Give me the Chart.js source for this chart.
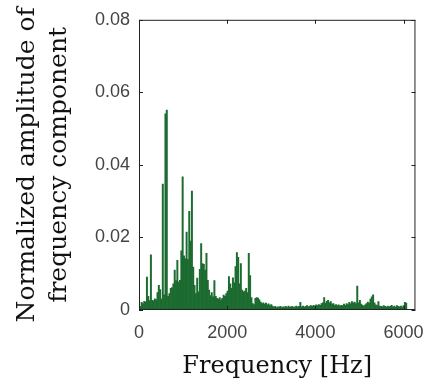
<!DOCTYPE html>
<html>
<head>
<meta charset="utf-8">
<script src="https://cdn.jsdelivr.net/npm/chart.js@4"></script>
<style>
  html, body { margin: 0; padding: 0; background: #fff; }
  #wrap { width: 436px; height: 385px; }
</style>
</head>
<body>
<div id="wrap"><canvas id="spectrumChart"></canvas></div>
<script>
// ==========================================
// data
// ==========================================

const binHz = 30;

// normalized amplitude, one value per 30 Hz bin starting at 0 Hz
const amplitudes = [
    0.0004, 0.0010, 0.0021, 0.0018, 0.0024, 0.0022, 0.0091, 0.0038, 0.0026, 0.0152,
    0.0027, 0.0025, 0.0031, 0.0029, 0.0048, 0.0068, 0.0056, 0.0030, 0.0347, 0.0042,
    0.0541, 0.0551, 0.0038, 0.0045, 0.0060, 0.0062, 0.0072, 0.0110, 0.0081, 0.0137,
    0.0077, 0.0082, 0.0163, 0.0367, 0.0149, 0.0142, 0.0215, 0.0140, 0.0272, 0.0190,
    0.0328, 0.0118, 0.0068, 0.0045, 0.0088, 0.0050, 0.0112, 0.0183, 0.0128, 0.0126,
    0.0110, 0.0156, 0.0082, 0.0055, 0.0040, 0.0048, 0.0036, 0.0081, 0.0038, 0.0032,
    0.0030, 0.0034, 0.0028, 0.0032, 0.0041, 0.0038, 0.0045, 0.0052, 0.0092, 0.0072,
    0.0060, 0.0089, 0.0075, 0.0120, 0.0158, 0.0145, 0.0072, 0.0128, 0.0055, 0.0050,
    0.0052, 0.0060, 0.0048, 0.0156, 0.0095, 0.0034, 0.0018, 0.0015, 0.0032, 0.0034,
    0.0033, 0.0028, 0.0022, 0.0018, 0.0020, 0.0016, 0.0019, 0.0014, 0.0017, 0.0012,
    0.0015, 0.0011, 0.0008, 0.0010, 0.0007, 0.0009, 0.0008, 0.0010, 0.0007, 0.0009,
    0.0008, 0.0010, 0.0007, 0.0011, 0.0008, 0.0009, 0.0010, 0.0007, 0.0009, 0.0011,
    0.0008, 0.0010, 0.0021, 0.0009, 0.0011, 0.0008, 0.0010, 0.0012, 0.0009, 0.0011,
    0.0012, 0.0010, 0.0013, 0.0011, 0.0014, 0.0012, 0.0015, 0.0013, 0.0018, 0.0020,
    0.0034, 0.0019, 0.0024, 0.0027, 0.0020, 0.0023, 0.0016, 0.0018, 0.0013, 0.0015,
    0.0012, 0.0014, 0.0011, 0.0013, 0.0012, 0.0016, 0.0013, 0.0018, 0.0015, 0.0021,
    0.0017, 0.0023, 0.0019, 0.0022, 0.0018, 0.0066, 0.0020, 0.0027, 0.0016, 0.0013,
    0.0011, 0.0014, 0.0018, 0.0022, 0.0019, 0.0030, 0.0036, 0.0042, 0.0020, 0.0014,
    0.0012, 0.0023, 0.0011, 0.0010, 0.0009, 0.0012, 0.0010, 0.0008, 0.0011, 0.0009,
    0.0010, 0.0013, 0.0009, 0.0011, 0.0008, 0.0012, 0.0010, 0.0009, 0.0011, 0.0008,
    0.0012, 0.0021, 0.0019
];

const frequencies = amplitudes.map((_, i) => i * binHz);

const xTicks = [0, 2000, 4000, 6000];
const yTicks = [0, 0.02, 0.04, 0.06, 0.08];

// ==========================================
// frame with inward ticks
// ==========================================

const framePlugin = {
    id: "frame",
    afterDraw(chart){
        const {ctx, chartArea: a, scales} = chart;
        ctx.save();
        ctx.strokeStyle = "#222";
        ctx.lineWidth = 1;
        ctx.strokeRect(a.left + 0.5, a.top + 0.5, a.right - a.left - 1, a.bottom - a.top - 1);
        ctx.beginPath();
        xTicks.forEach(v => {
            const px = Math.round(scales.x.getPixelForValue(v)) + 0.5;
            ctx.moveTo(px, a.top); ctx.lineTo(px, a.top + 4);
            ctx.moveTo(px, a.bottom); ctx.lineTo(px, a.bottom - 4);
        });
        yTicks.forEach(v => {
            const py = Math.round(scales.y.getPixelForValue(v)) + 0.5;
            ctx.moveTo(a.left, py); ctx.lineTo(a.left + 4, py);
            ctx.moveTo(a.right, py); ctx.lineTo(a.right - 4, py);
        });
        ctx.stroke();
        ctx.restore();
    }
};

// ==========================================
// chart
// ==========================================

const ctx = document.getElementById("spectrumChart").getContext("2d");

new Chart(ctx,{

    type:"bar",

    data:{
        datasets:[{
            data: frequencies.map((f, i) => ({x: f, y: amplitudes[i]})),
            backgroundColor:"#1c6b30",
            borderWidth:0,
            barPercentage:1,
            categoryPercentage:1
        }]
    },

    options:{
        responsive:true,
        maintainAspectRatio:false,
        animation:false,
        events:[],
        layout:{ padding:{ top:15, right:10, left:0, bottom:0 } },
        plugins:{
            legend:{ display:false },
            tooltip:{ enabled:false }
        },
        scales:{
            x:{
                type:"linear",
                min:0,
                max:6270,
                offset:false,
                grid:{ display:false, drawTicks:false },
                border:{ display:false },
                afterBuildTicks(s){ s.ticks = xTicks.map(v => ({value:v})); },
                afterFit(s){ s.height = 75; },
                ticks:{
                    padding:12,
                    color:"#444",
                    font:{ family:"Liberation Sans", size:18 },
                    callback:v => String(v)
                },
                title:{
                    display:true,
                    text:"Frequency [Hz]",
                    color:"#111",
                    padding:{ top:0, bottom:4 },
                    font:{ family:"DejaVu Serif", size:24, lineHeight:1.2 }
                }
            },
            y:{
                min:0,
                max:0.08,
                grid:{ display:false, drawTicks:false },
                border:{ display:false },
                afterBuildTicks(s){ s.ticks = yTicks.map(v => ({value:v})); },
                afterFit(s){ s.width = 139; },
                ticks:{
                    padding:9,
                    color:"#444",
                    font:{ family:"Liberation Sans", size:18 },
                    callback:v => v === 0 ? "0" : v.toFixed(2)
                },
                title:{
                    display:true,
                    text:["Normalized amplitude of", "frequency component"],
                    color:"#111",
                    padding:{ top:11, bottom:0 },
                    font:{ family:"DejaVu Serif", size:25, lineHeight:1.3 }
                }
            }
        }
    },

    plugins:[framePlugin]

});
</script>
</body>
</html>
